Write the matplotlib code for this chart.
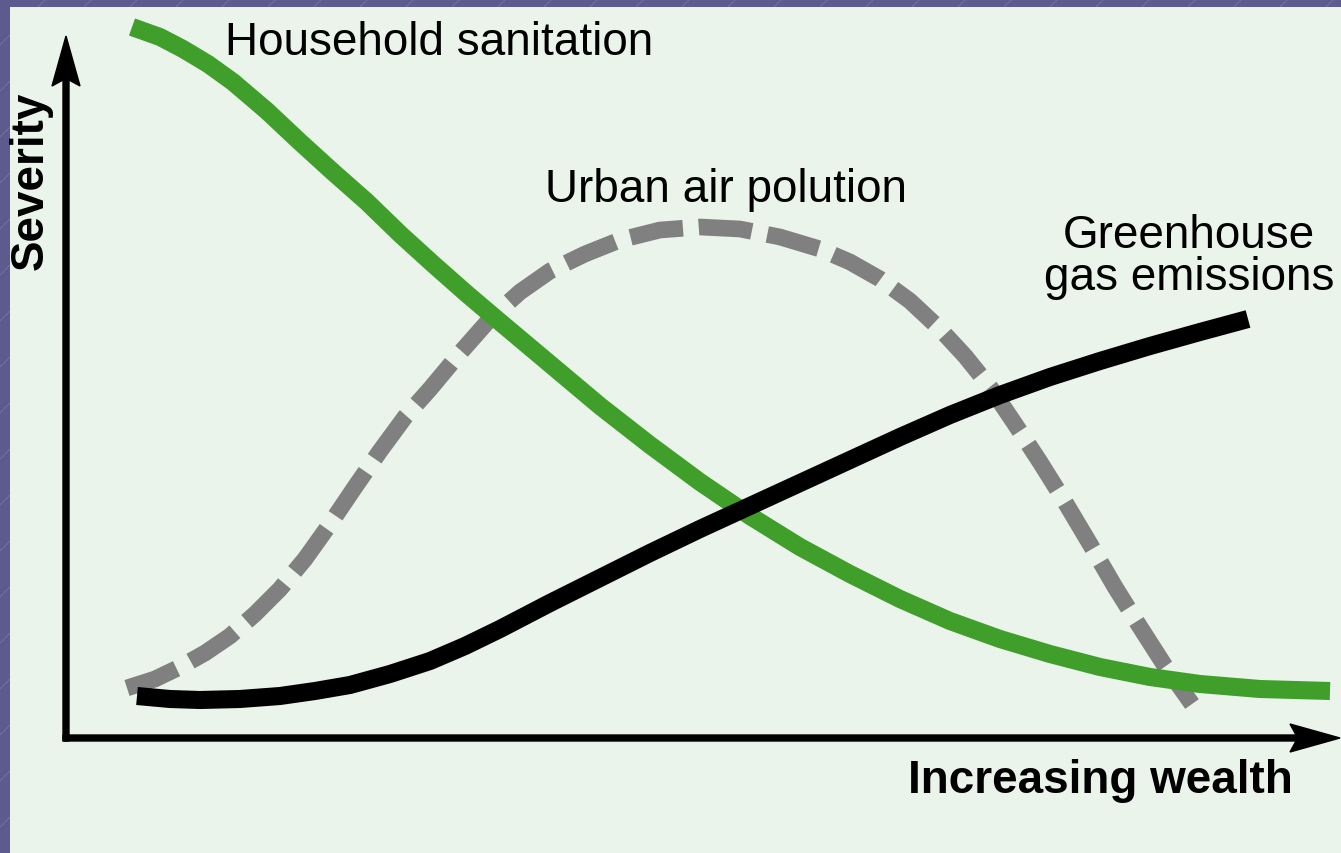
import numpy as np
import matplotlib
matplotlib.use('Agg')
import matplotlib.pyplot as plt

plt.rcParams['font.family'] = ['Liberation Sans', 'DejaVu Sans']

# curves (x right, y down)
sanitation_px = [132, 160, 183, 208, 233, 267, 300, 333, 367, 400, 433, 467, 500, 550, 600, 650, 700,
                 750, 800, 850, 900, 950, 1000, 1050, 1100, 1150, 1200, 1260, 1330]
sanitation_py = [28, 38, 50, 65, 83, 112, 143, 173, 203, 235, 265, 295, 323, 365, 407, 446, 483,
                 517, 548, 575, 600, 622, 640, 655, 668, 678, 685, 690, 692]

air_px = [127, 155, 180, 205, 230, 255, 280, 305, 330, 355, 380, 405, 430, 460, 490, 520, 550, 585,
          620, 660, 700, 740, 780, 820, 850, 880, 910, 940, 965, 990, 1015, 1040, 1065, 1090, 1115,
          1140, 1165, 1192]
air_py = [689, 680, 668, 654, 637, 615, 590, 560, 525, 488, 452, 418, 390, 354, 320, 293, 272, 255,
          241, 231, 228, 230, 238, 250, 263, 280, 302, 330, 357, 388, 425, 463, 503, 545, 588,
          628, 667, 705]

ghg_px = [137, 170, 200, 240, 280, 315, 350, 390, 430, 465, 500, 550, 600, 650, 700, 750, 800, 850,
          900, 950, 1000, 1050, 1100, 1150, 1200, 1248]
ghg_py = [697, 700, 701, 700, 697, 692, 686, 675, 662, 647, 630, 604, 579, 554, 530, 507, 484, 461,
          438, 416, 396, 378, 362, 347, 333, 320]

W, H = 1341, 854
ORIGIN_X, ORIGIN_Y = 66, 739  # axis corner in the picture


def wealth(px):
    return [p - ORIGIN_X for p in px]


def severity(py):
    return [ORIGIN_Y - p for p in py]


fig = plt.figure(figsize=(W / 100, H / 100), dpi=100)

# purple slide background with faint diagonal streaks
bg = fig.add_axes([0, 0, 1, 1])
bg.set_xlim(0, W)
bg.set_ylim(0, H)
bg.axis('off')
bg.add_patch(plt.Rectangle((0, 0), W, H, color='#5d5a8e', zorder=0))
for off in np.arange(-900, 1400, 46):
    bg.plot([off, off + 900], [0, 900], color='#8a87b8', lw=0.6, alpha=0.6, zorder=1)

# light green panel = main axes
ax = fig.add_axes([10 / W, 0, 1 - 10 / W, (H - 8) / H])
ax.set_facecolor('#eaf4ea')
ax.set_xlim(10 - ORIGIN_X, W - ORIGIN_X)
ax.set_ylim(-(H - ORIGIN_Y), ORIGIN_Y - 8)
for s in ax.spines.values():
    s.set_visible(False)
ax.set_xticks([])
ax.set_yticks([])

ax.plot(wealth(sanitation_px), severity(sanitation_py), color='#409f2b', lw=13,
        solid_capstyle='butt', solid_joinstyle='round', zorder=3)
ax.plot(wealth(air_px), severity(air_py), color='#808080', lw=12, linestyle=(0, (3.2, 0.95)),
        dash_capstyle='butt', dash_joinstyle='round', zorder=2)
ax.plot(wealth(ghg_px), severity(ghg_py), color='black', lw=13,
        solid_capstyle='butt', solid_joinstyle='round', zorder=4)

# axes arrows
ax.arrow(0, -3, 0, 705, width=6, head_width=28, head_length=50, overhang=0.12,
         length_includes_head=True, color='black', clip_on=False, zorder=5)
ax.arrow(-3, 0, 1277, 0, width=6, head_width=28, head_length=50, overhang=0.12,
         length_includes_head=True, color='black', clip_on=False, zorder=5)

ax.text(225 - ORIGIN_X, ORIGIN_Y - 55, 'Household sanitation', fontsize=33, ha='left', va='baseline')
ax.text(545 - ORIGIN_X, ORIGIN_Y - 202, 'Urban air polution', fontsize=33, ha='left', va='baseline')
ax.text(1189 - ORIGIN_X, ORIGIN_Y - 248, 'Greenhouse', fontsize=33, ha='center', va='baseline')
ax.text(1189 - ORIGIN_X, ORIGIN_Y - 290, 'gas emissions', fontsize=33, ha='center', va='baseline')
ax.text(908 - ORIGIN_X, ORIGIN_Y - 793, 'Increasing wealth', fontsize=33, fontweight='bold',
        ha='left', va='baseline')
ax.text(31 - ORIGIN_X, ORIGIN_Y - 181, 'Severity', fontsize=33, fontweight='bold', rotation=90,
        ha='center', va='center')

fig.savefig('out.png', dpi=100, facecolor=fig.get_facecolor())
